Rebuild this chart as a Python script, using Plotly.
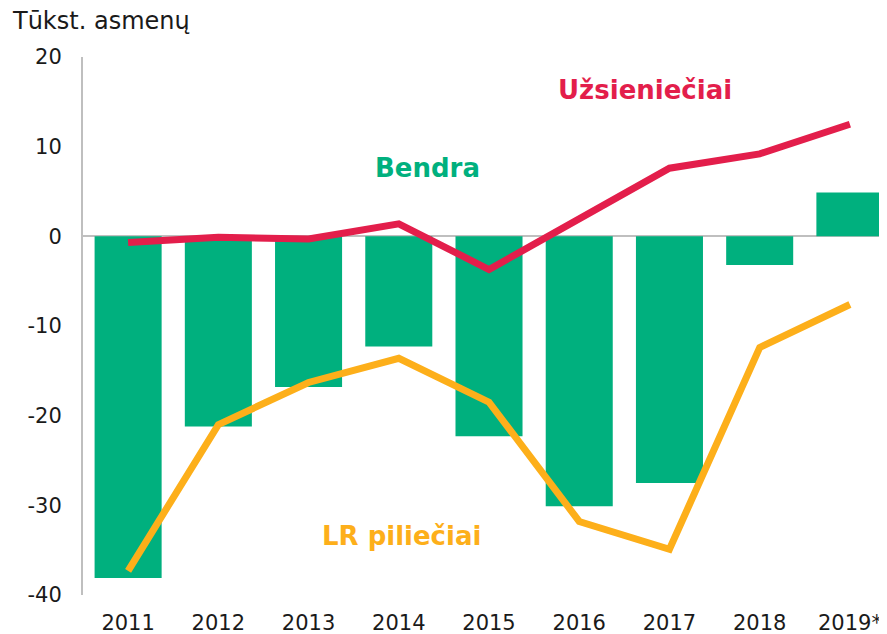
import plotly.graph_objects as go

years = ["2011", "2012", "2013", "2014", "2015", "2016", "2017", "2018", "2019*"]
bendra = [-38.1, -21.2, -16.8, -12.3, -22.3, -30.1, -27.5, -3.2, 4.9]
uzsienieciai = [-0.7, -0.1, -0.3, 1.4, -3.7, 1.9, 7.6, 9.2, 12.5]
lr_pilieciai = [-37.3, -21.0, -16.3, -13.6, -18.5, -31.8, -34.9, -12.4, -7.6]
y_ticks = [-40, -30, -20, -10, 0, 10, 20]
y_ticktext = ["-40", "-30", "-20", "-10", "0", "10", "20"]

GREEN = "#00B07E"
RED = "#E31E4B"
ORANGE = "#FDAF1A"
FONT = "DejaVu Sans"

fig = go.Figure()
fig.add_trace(go.Bar(x=years, y=bendra, marker=dict(color=GREEN, line=dict(width=0)),
                     name="Bendra", showlegend=False))
fig.add_trace(go.Scatter(x=years, y=uzsienieciai, mode="lines",
                         line=dict(color=RED, width=7), name="Užsieniečiai", showlegend=False))
fig.add_trace(go.Scatter(x=years, y=lr_pilieciai, mode="lines",
                         line=dict(color=ORANGE, width=7), name="LR piliečiai", showlegend=False))

# page has an 8px body margin, so the figure is sized/offset to compensate
W, H = 879, 626
L, R, T, B = 75, 1, 49, 39
PW, PH = W - L - R, H - T - B

fig.update_layout(
    width=W, height=H,
    margin=dict(l=L, r=R, t=T, b=B, autoexpand=False),
    paper_bgcolor="white", plot_bgcolor="white",
    bargap=0.257,
    font=dict(family=FONT, size=21, color="#1a1a1a"),
    xaxis=dict(type="category", range=[-0.5, 8.4], showgrid=False, zeroline=False,
               showline=False, ticks="", ticklabelstandoff=13, automargin=False,
               tickfont=dict(family=FONT, size=21, color="#1a1a1a")),
    yaxis=dict(range=[-40, 20], tickvals=y_ticks, ticktext=y_ticktext, showgrid=False,
               zeroline=True, zerolinecolor="#BFBFBF", zerolinewidth=2,
               showline=True, linecolor="#BFBFBF", linewidth=2,
               ticks="", ticklabelstandoff=15, automargin=False,
               tickfont=dict(family=FONT, size=21, color="#1a1a1a")),
    annotations=[
        dict(text="Tūkst. asmenų", xref="paper", yref="paper",
             x=(2 - L) / PW, y=(T + PH - 13) / PH, xanchor="left", yanchor="middle",
             showarrow=False, font=dict(family=FONT, size=24, color="#1a1a1a")),
        dict(text="<b>Užsieniečiai</b>", x=5.73, y=16.35, xref="x", yref="y",
             showarrow=False, font=dict(family=FONT, size=26, color=RED)),
        dict(text="<b>Bendra</b>", x=3.32, y=7.66, xref="x", yref="y",
             showarrow=False, font=dict(family=FONT, size=26, color=GREEN)),
        dict(text="<b>LR piliečiai</b>", x=3.03, y=-33.4, xref="x", yref="y",
             showarrow=False, font=dict(family=FONT, size=26, color=ORANGE)),
    ],
)

fig.write_html("out.html")
